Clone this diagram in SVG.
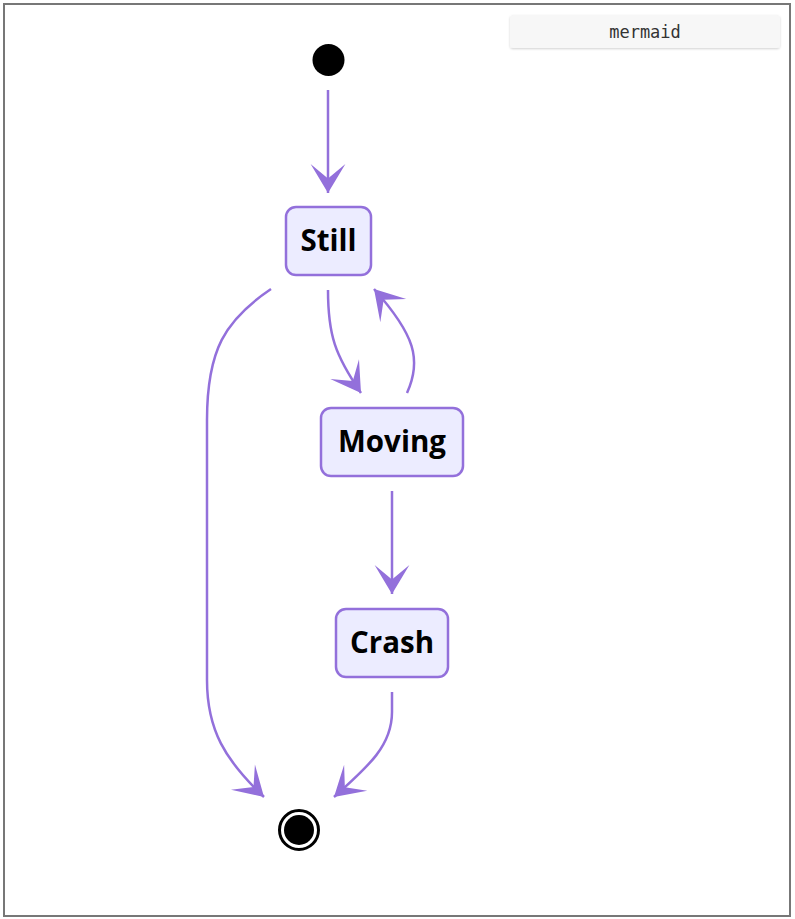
<svg xmlns="http://www.w3.org/2000/svg" width="795" height="919" viewBox="0 0 795 919">
<style>
.node rect{fill:#ECECFF;stroke:#9370DB;stroke-width:2.5}
.node text{font-family:"Open Sans","Noto Sans",sans-serif;font-weight:bold;font-size:29.5px;fill:#000;text-anchor:middle;dominant-baseline:central}
.edge{fill:none;stroke:#9370DB;stroke-width:2.5;marker-end:url(#barb)}
</style>
<defs>
<marker id="barb" viewBox="0 0 20 14" refX="19" refY="7" markerUnits="userSpaceOnUse" markerWidth="58" markerHeight="40.6" orient="auto">
<path d="M19,7 L9,13 L14,7 L9,1 Z" fill="#9370DB"/>
</marker>
<filter id="sh" x="-5%" y="-20%" width="110%" height="150%">
<feDropShadow dx="0" dy="1" stdDeviation="1" flood-color="#000" flood-opacity="0.18"/>
</filter>
</defs>
<rect x="0" y="0" width="795" height="919" fill="#fff"/>
<rect x="4" y="4" width="786" height="912" fill="#fff" stroke="#777" stroke-width="2"/>
<g id="badge">
<rect x="510" y="15" width="270" height="33" rx="3" fill="#f7f7f7" filter="url(#sh)"/>
<text x="645" y="31.5" font-family="'DejaVu Sans Mono','Liberation Mono',monospace" font-size="17" fill="#333" text-anchor="middle" dominant-baseline="central">mermaid</text>
</g>
<g id="connectors">
<path class="edge" d="M328,90 L328,193"/>
<path class="edge" d="M328,290 C328,335 335,355 361,393"/>
<path class="edge" d="M407,393 C422,360 415,335 374,289"/>
<path class="edge" d="M392,491 L392,594"/>
<path class="edge" d="M271,289 C225,320 207,350 207,420 L207,680 C207,730 225,760 264,797"/>
<path class="edge" d="M392,692 L392,712 C392,745 370,765 334,797"/>
</g>
<g id="start"><circle cx="328.5" cy="60" r="16" fill="#000"/></g>
<g id="Still" class="node"><rect x="286" y="207" width="85" height="68" rx="10"/><text x="328.5" y="239.5">Still</text></g>
<g id="Moving" class="node"><rect x="321" y="408" width="142" height="68" rx="10"/><text x="392" y="440.5">Moving</text></g>
<g id="Crash" class="node"><rect x="336" y="609" width="112" height="68" rx="10"/><text x="392" y="641.5">Crash</text></g>
<g id="end"><circle cx="299" cy="830" r="19.5" fill="#fff" stroke="#000" stroke-width="3"/><circle cx="299" cy="830" r="15" fill="#000"/></g>
</svg>
